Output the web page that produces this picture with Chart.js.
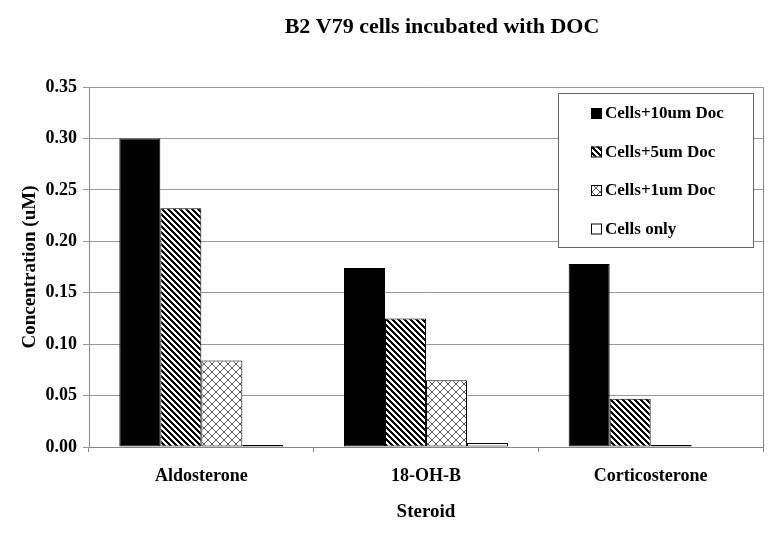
<!doctype html>
<html>
  <head>
    <script src="https://cdn.jsdelivr.net/npm/chart.js@4"></script>
    <style>
      html, body { margin: 0; padding: 0; background: #fff; }
    </style>
  </head>

  <body>
    <div style="width:782px;height:534px">
      <canvas id="canvas" width="782" height="534"></canvas>
    </div>
    <script>
      const steroids = ['Aldosterone', '18-OH-B', 'Corticosterone'];
      const seriesLabels = ['Cells+10um Doc', 'Cells+5um Doc', 'Cells+1um Doc', 'Cells only'];
      const doc10 = [0.300, 0.174, 0.178];
      const doc5 = [0.232, 0.125, 0.047];
      const doc1 = [0.084, 0.065, 0.002];
      const cellsOnly = [0.002, 0.004, 0.0];
      const yTicks = [0, 0.05, 0.1, 0.15, 0.2, 0.25, 0.3, 0.35];

      const FONT = '"Liberation Serif", "Times New Roman", serif';

      function makePattern(kind) {
        const c = document.createElement('canvas');
        const ctx = c.getContext('2d');
        if (kind === 'stripes') {
          // crisp "\" stripes, one pixel at a time
          const s = 6;
          c.width = s; c.height = s;
          ctx.fillStyle = '#fff';
          ctx.fillRect(0, 0, s, s);
          for (let y = 0; y < s; y++) {
            for (let x = 0; x < s; x++) {
              const d = ((x - y) % s + s) % s;
              if (d < 3) { ctx.fillStyle = '#000'; ctx.fillRect(x, y, 1, 1); }
            }
          }
        } else {
          const s = 8;
          c.width = s; c.height = s;
          ctx.fillStyle = '#fff';
          ctx.fillRect(0, 0, s, s);
          ctx.strokeStyle = '#333';
          ctx.lineWidth = 0.8;
          ctx.beginPath();
          ctx.moveTo(0, 0); ctx.lineTo(s, s);
          ctx.moveTo(0, s); ctx.lineTo(s, 0);
          ctx.stroke();
        }
        return document.getElementById('canvas').getContext('2d').createPattern(c, 'repeat');
      }

      const fills = ['#000', makePattern('stripes'), makePattern('cross'), '#fff'];

      // title drawn by hand so it can sit off-centre like the original
      const titlePlugin = {
        id: 'titleText',
        afterDraw(chart) {
          const ctx = chart.ctx;
          ctx.save();
          ctx.font = 'bold 22px ' + FONT;
          ctx.fillStyle = '#000';
          ctx.textAlign = 'center';
          ctx.textBaseline = 'middle';
          ctx.fillText('B2 V79 cells incubated with DOC', 442, 27);
          ctx.restore();
        },
      };

      // right frame line + boxed legend inside the plot
      const framePlugin = {
        id: 'frame',
        afterDraw(chart) {
          const { ctx, chartArea } = chart;
          ctx.save();
          ctx.strokeStyle = '#888';
          ctx.lineWidth = 1;
          ctx.beginPath();
          ctx.moveTo(chartArea.right + 0.5, chartArea.top);
          ctx.lineTo(chartArea.right + 0.5, chartArea.bottom);
          ctx.stroke();

          const bx = 558, by = 93, bw = 195, bh = 154;
          ctx.fillStyle = '#fff';
          ctx.fillRect(bx, by, bw, bh);
          ctx.strokeStyle = '#666';
          ctx.strokeRect(bx + 0.5, by + 0.5, bw, bh);
          ctx.font = 'bold 17px ' + FONT;
          ctx.textBaseline = 'middle';
          chart.data.datasets.forEach((ds, i) => {
            const y = 113 + i * 38.5;
            ctx.fillStyle = ds.backgroundColor;
            ctx.fillRect(591, y - 5, 10, 10);
            ctx.strokeStyle = '#000';
            ctx.strokeRect(591.5, y - 4.5, 10, 10);
            ctx.fillStyle = '#000';
            ctx.fillText(ds.label, 605, y + 1);
          });
          ctx.restore();
        },
      };

      const datasets = [doc10, doc5, doc1, cellsOnly].map((vals, i) => ({
        label: seriesLabels[i],
        data: vals,
        backgroundColor: fills[i],
        borderColor: '#000',
        borderWidth: 1,
        borderSkipped: false,
        categoryPercentage: 0.73,
        barPercentage: 1.0,
      }));

      new Chart(document.getElementById('canvas').getContext('2d'), {
        type: 'bar',
        data: { labels: steroids, datasets },
        options: {
          responsive: false,
          animation: false,
          layout: { padding: { top: 87, right: 19, left: 0, bottom: 0 } },
          plugins: {
            legend: { display: false },
            title: { display: false },
            tooltip: { enabled: false },
          },
          scales: {
            x: {
              afterFit(scale) { scale.height = 87; },
              grid: { offset: true, drawOnChartArea: false, drawTicks: true, tickLength: 5, color: '#888' },
              border: { color: '#888' },
              ticks: { color: '#000', font: { family: FONT, size: 18, weight: 'bold' }, padding: 14 },
              title: { display: true, text: 'Steroid', color: '#000', font: { family: FONT, size: 19, weight: 'bold' }, padding: { top: 0, bottom: 11 } },
            },
            y: {
              min: 0,
              max: 0.35,
              afterFit(scale) { scale.width = 89; },
              afterBuildTicks(scale) { scale.ticks = yTicks.map((v) => ({ value: v })); },
              grid: { color: '#999', tickLength: 6 },
              border: { color: '#888' },
              ticks: {
                color: '#000',
                font: { family: FONT, size: 18, weight: 'bold' },
                padding: 6,
                callback: (v) => Number(v).toFixed(2),
              },
              title: { display: true, text: 'Concentration (uM)', color: '#000', font: { family: FONT, size: 19, weight: 'bold' }, padding: { top: 19, bottom: 0 } },
            },
          },
        },
        plugins: [titlePlugin, framePlugin],
      });
    </script>
  </body>
</html>
